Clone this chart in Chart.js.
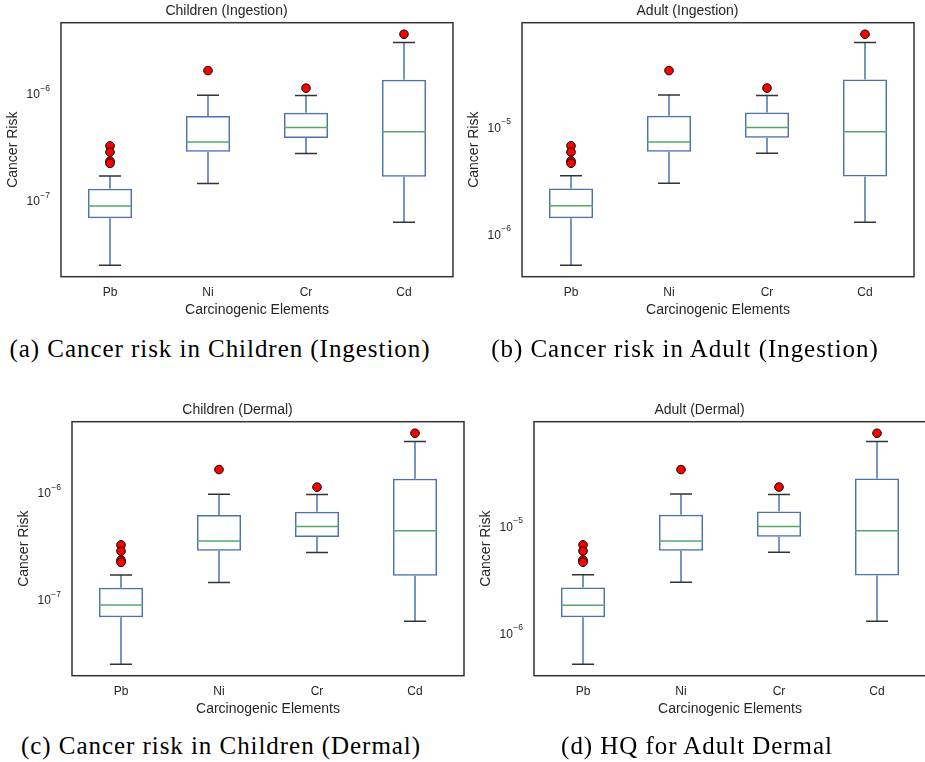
<!DOCTYPE html>
<html>
<head>
<meta charset="utf-8">
<script src="https://cdn.jsdelivr.net/npm/chart.js@4.4.0/dist/chart.umd.min.js"></script>
<style>
    body { margin: 0; width: 925px; height: 762px; overflow: hidden; background: #fff; position: relative; }
    .panel { position: absolute; width: 465px; height: 325px; }
    .caption { position: absolute; font-family: "Liberation Serif", "Times New Roman", serif; font-size: 25px;
               line-height: 25px; letter-spacing: 0.95px; color: #000; white-space: nowrap; transform: translateX(-50%); }
</style>
</head>
<body>
<div class="panel" style="left:0px;top:0px"><canvas id="child-ing"></canvas></div>
<div class="panel" style="left:460.7px;top:0px"><canvas id="adult-ing"></canvas></div>
<div class="panel" style="left:11px;top:399.3px"><canvas id="child-derm"></canvas></div>
<div class="panel" style="left:472.7px;top:399.3px"><canvas id="adult-derm"></canvas></div>

<div class="caption" style="left:220px;top:336px">(a) Cancer risk in Children (Ingestion)</div>
<div class="caption" style="left:685px;top:336px">(b) Cancer risk in Adult (Ingestion)</div>
<div class="caption" style="left:221px;top:733px">(c) Cancer risk in Children (Dermal)</div>
<div class="caption" style="left:697px;top:733px">(d) HQ for Adult Dermal</div>

<script>
const elements = ['Pb', 'Ni', 'Cr', 'Cd'];

// ===== Children (Ingestion) =====
const childIngLow  = [2.55e-8, 1.48e-7, 2.82e-7, 6.41e-8];
const childIngQ1   = [6.98e-8, 2.92e-7, 3.94e-7, 1.71e-7];
const childIngMed  = [9.10e-8, 3.61e-7, 4.92e-7, 4.49e-7];
const childIngQ3   = [1.32e-7, 6.32e-7, 6.79e-7, 1.38e-6];
const childIngHigh = [1.74e-7, 9.90e-7, 9.80e-7, 3.07e-6];
const childIngOut  = [[3.32e-7, 2.90e-7, 2.39e-7, 2.28e-7], [1.68e-6], [1.15e-6], [3.67e-6]];

// ===== Adult (Ingestion) =====
const adultIngLow  = [5.20e-7, 3.03e-6, 5.78e-6, 1.31e-6];
const adultIngQ1   = [1.43e-6, 5.99e-6, 8.08e-6, 3.51e-6];
const adultIngMed  = [1.87e-6, 7.40e-6, 1.01e-5, 9.20e-6];
const adultIngQ3   = [2.71e-6, 1.30e-5, 1.39e-5, 2.83e-5];
const adultIngHigh = [3.57e-6, 2.03e-5, 2.01e-5, 6.29e-5];
const adultIngOut  = [[6.80e-6, 5.95e-6, 4.90e-6, 4.67e-6], [3.44e-5], [2.36e-5], [7.52e-5]];

// ===== Children (Dermal) =====
const childDermLow  = [2.55e-8, 1.48e-7, 2.82e-7, 6.41e-8];
const childDermQ1   = [6.98e-8, 2.92e-7, 3.94e-7, 1.71e-7];
const childDermMed  = [9.10e-8, 3.61e-7, 4.92e-7, 4.49e-7];
const childDermQ3   = [1.32e-7, 6.32e-7, 6.79e-7, 1.38e-6];
const childDermHigh = [1.74e-7, 9.90e-7, 9.80e-7, 3.07e-6];
const childDermOut  = [[3.32e-7, 2.90e-7, 2.39e-7, 2.28e-7], [1.68e-6], [1.15e-6], [3.67e-6]];

// ===== Adult (Dermal) =====
const adultDermLow  = [5.20e-7, 3.03e-6, 5.78e-6, 1.31e-6];
const adultDermQ1   = [1.43e-6, 5.99e-6, 8.08e-6, 3.51e-6];
const adultDermMed  = [1.85e-6, 7.40e-6, 1.01e-5, 9.20e-6];
const adultDermQ3   = [2.71e-6, 1.30e-5, 1.39e-5, 2.83e-5];
const adultDermHigh = [3.57e-6, 2.03e-5, 2.01e-5, 6.29e-5];
const adultDermOut  = [[6.80e-6, 5.95e-6, 4.90e-6, 4.67e-6], [3.44e-5], [2.36e-5], [7.52e-5]];

const FONT = '"Liberation Sans", Arial, sans-serif';
Chart.defaults.font.family = FONT;
Chart.defaults.color = '#262626';
Chart.defaults.animation = false;

// whiskers, caps and medians, placed with the chart's own scales
const boxParts = (low, med, high) => ({
    id: 'boxParts',
    afterDatasetsDraw(chart) {
        const {ctx, scales: {x, y}} = chart;
        const boxes = chart.getDatasetMeta(0).data;
        const ranges = chart.data.datasets[0].data;
        ctx.save();
        boxes.forEach((bar, i) => {
            const cx = x.getPixelForValue(i);
            const half = bar.width / 2;
            ctx.lineWidth = 1.5;
            ctx.strokeStyle = '#4c72b0';
            ctx.beginPath();
            ctx.moveTo(cx, y.getPixelForValue(ranges[i][0]));
            ctx.lineTo(cx, y.getPixelForValue(low[i]));
            ctx.moveTo(cx, y.getPixelForValue(ranges[i][1]));
            ctx.lineTo(cx, y.getPixelForValue(high[i]));
            ctx.stroke();
            ctx.strokeStyle = '#333333';
            ctx.beginPath();
            [low[i], high[i]].forEach(v => {
                ctx.moveTo(cx - half / 2, y.getPixelForValue(v));
                ctx.lineTo(cx + half / 2, y.getPixelForValue(v));
            });
            ctx.stroke();
            ctx.strokeStyle = '#55a868';
            ctx.beginPath();
            ctx.moveTo(cx - half, y.getPixelForValue(med[i]));
            ctx.lineTo(cx + half, y.getPixelForValue(med[i]));
            ctx.stroke();
        });
        ctx.restore();
    }
});

// frame + "10^n" tick labels with a raised exponent, like matplotlib mathtext
const frame = {
    id: 'frame',
    afterDraw(chart) {
        const {ctx, chartArea: a, scales: {y}} = chart;
        ctx.save();
        ctx.strokeStyle = '#333333';
        ctx.lineWidth = 1.5;
        ctx.strokeRect(a.left, a.top, a.right - a.left, a.bottom - a.top);

        ctx.fillStyle = '#262626';
        ctx.textBaseline = 'middle';
        ctx.textAlign = 'left';
        y.ticks.forEach(t => {
            const py = y.getPixelForValue(t.value);
            const exp = '\u2212' + Math.abs(Math.round(Math.log10(t.value)));
            ctx.font = '8.5px ' + FONT;
            const wExp = ctx.measureText(exp).width;
            ctx.font = '12px ' + FONT;
            const wBase = ctx.measureText('10').width;
            const right = a.left - 11;
            ctx.fillText('10', right - wExp - wBase - 0.5, py + 0.5);
            ctx.font = '8.5px ' + FONT;
            ctx.fillText(exp, right - wExp, py - 6.5);
        });
        ctx.restore();
    }
};

const drawPanel = (canvasId, title, low, q1, med, q3, high, outliers) => {
    // ===== Data =====
    const outlierPoints = [];
    outliers.forEach((vals, i) => vals.forEach(v => outlierPoints.push({x: elements[i], y: v})));

    const all = low.concat(high, outlierPoints.map(p => p.y));
    const logMin = Math.log10(Math.min(...all));
    const logMax = Math.log10(Math.max(...all));
    const margin = (logMax - logMin) * 0.05;

    const data = {
        labels: elements,
        datasets: [{
            type: 'bar',
            data: elements.map((e, i) => [q1[i], q3[i]]),
            backgroundColor: 'rgba(0,0,0,0)',
            borderColor: '#4c72b0',
            borderWidth: 1.5,
            borderSkipped: false,
            barPercentage: 0.45,
            categoryPercentage: 1
        }, {
            type: 'line',
            data: outlierPoints,
            showLine: false,
            pointRadius: 4.3,
            pointHoverRadius: 4.3,
            pointBackgroundColor: '#ff0000',
            pointBorderColor: '#000000',
            pointBorderWidth: 1
        }]
    };

    // ===== Options =====
    const options = {
        responsive: true,
        maintainAspectRatio: false,
        layout: {padding: {top: 0, right: 12, bottom: 0, left: 0}},
        plugins: {
            legend: {display: false},
            tooltip: {enabled: false},
            title: {
                display: true,
                text: title,
                font: {size: 14, weight: 'normal'},
                padding: {top: 2.3, bottom: 3.6}
            }
        },
        scales: {
            x: {
                type: 'category',
                offset: true,
                grid: {display: false, drawTicks: false},
                border: {display: false},
                ticks: {font: {size: 12}, padding: 9},
                title: {display: true, text: 'Carcinogenic Elements', font: {size: 14}, padding: {top: 0, bottom: 6.6}},
                afterFit: (s) => { s.height = 48.3; }
            },
            y: {
                type: 'logarithmic',
                min: Math.pow(10, logMin - margin),
                max: Math.pow(10, logMax + margin),
                bounds: 'data',
                grid: {display: false, drawTicks: false},
                border: {display: false},
                ticks: {display: false},
                afterBuildTicks: (s) => {
                    const ticks = [];
                    for (let e = Math.ceil(Math.log10(s.min)); e <= Math.floor(Math.log10(s.max)); e++) {
                        ticks.push({value: Math.pow(10, e)});
                    }
                    s.ticks = ticks;
                },
                title: {display: true, text: 'Cancer Risk', font: {size: 14}, padding: {top: 4.6, bottom: 0}},
                afterFit: (s) => { s.width = 61; }
            }
        }
    };

    // ===== Chart =====
    return new Chart(document.getElementById(canvasId), {
        type: 'bar',
        data: data,
        options: options,
        plugins: [boxParts(low, med, high), frame]
    });
};

drawPanel('child-ing', 'Children (Ingestion)', childIngLow, childIngQ1, childIngMed, childIngQ3, childIngHigh, childIngOut);
drawPanel('adult-ing', 'Adult (Ingestion)', adultIngLow, adultIngQ1, adultIngMed, adultIngQ3, adultIngHigh, adultIngOut);
drawPanel('child-derm', 'Children (Dermal)', childDermLow, childDermQ1, childDermMed, childDermQ3, childDermHigh, childDermOut);
drawPanel('adult-derm', 'Adult (Dermal)', adultDermLow, adultDermQ1, adultDermMed, adultDermQ3, adultDermHigh, adultDermOut);
</script>
</body>
</html>
